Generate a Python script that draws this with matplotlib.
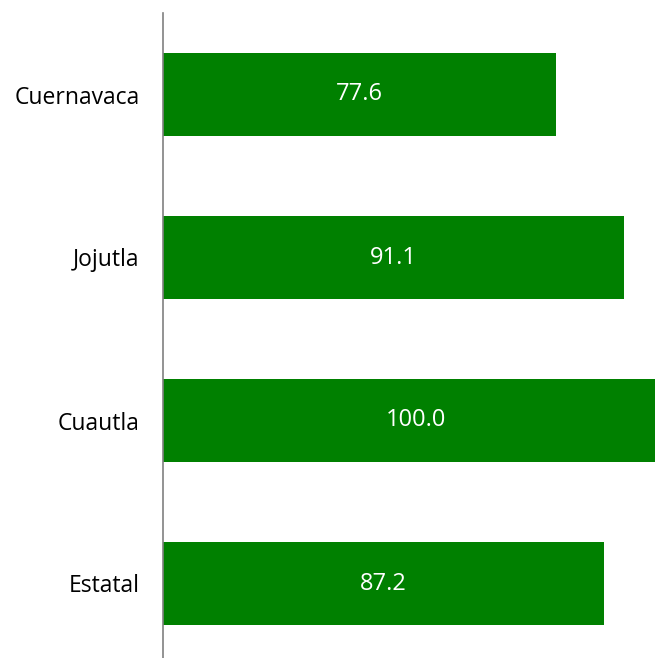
import matplotlib.pyplot as plt

regions = ['Cuernavaca', 'Jojutla', 'Cuautla', 'Estatal']
values = [77.6, 91.1, 100.0, 87.2]

plt.rcParams['font.family'] = ['Open Sans', 'DejaVu Sans']

fig = plt.figure(figsize=(6.55, 6.58), dpi=100)
ax = fig.add_axes([163 / 655, -7 / 658, 492 / 655, 652 / 658])

pos = list(range(len(regions)))
ax.barh(pos, values, height=0.51, color='#008000')
for p, v in zip(pos, values):
    ax.text(v / 2, p, f'{v:.1f}', ha='center', va='center', color='white', fontsize=17)

ax.set_xlim(0, 97.2)
ax.set_ylim(3.5, -0.5)
ax.set_yticks(pos)
ax.set_yticklabels(regions, fontsize=16.5)
ax.tick_params(axis='y', length=0, pad=17)
ax.set_xticks([])
for s in ['top', 'right', 'bottom']:
    ax.spines[s].set_visible(False)
ax.spines['left'].set_color('#808080')
ax.spines['left'].set_linewidth(1.2)

fig.savefig('out.png', dpi=100)
